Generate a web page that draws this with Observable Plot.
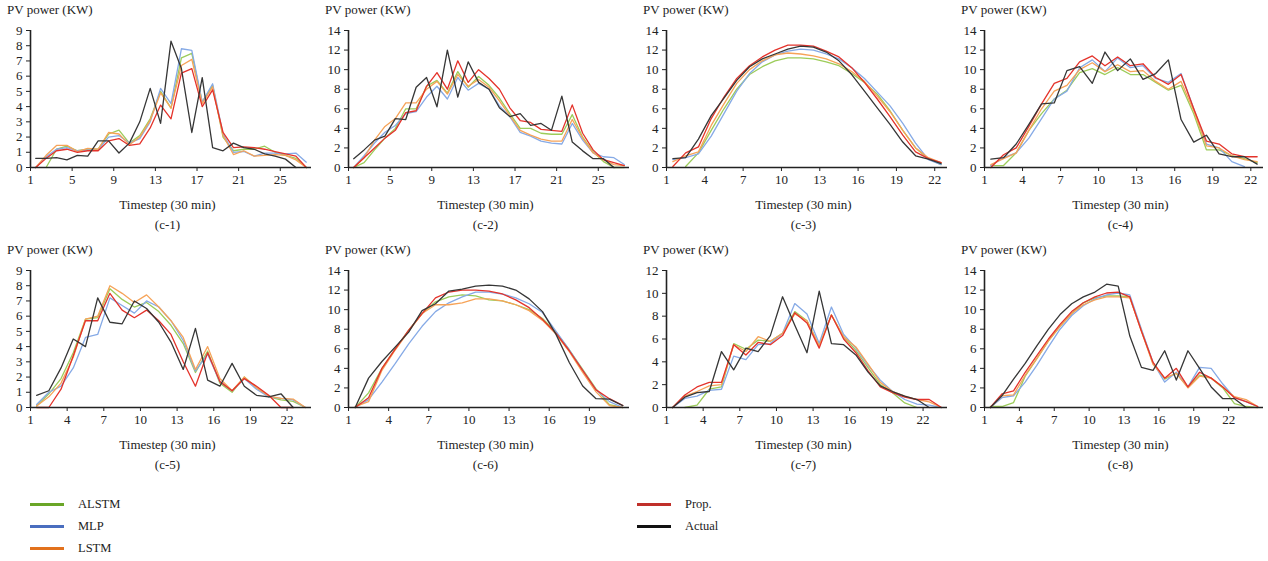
<!DOCTYPE html>
<html>
<head>
<meta charset="utf-8">
<script src="https://cdn.jsdelivr.net/npm/d3@7"></script>
<script src="https://cdn.jsdelivr.net/npm/@observablehq/plot@0.6"></script>
<style>
  body { margin: 0; background: #fff; font-family: "Liberation Serif", "Times New Roman", "DejaVu Serif", serif; color: #222; }
  #root { position: relative; width: 1268px; height: 561px; overflow: hidden; background: #fff; }
  .panel { position: absolute; width: 317px; height: 240px; }
  .ttl { position: absolute; top: 3px; font-size: 13px; line-height: 14px; white-space: nowrap; }
  .plotwrap { position: absolute; top: 20px; left: 0; }
  .xl, .cap { position: absolute; font-size: 13px; line-height: 14px; white-space: nowrap; transform: translateX(-50%); }
  .xl { top: 198px; }
  .cap { top: 218px; }
  .leg { position: absolute; font-size: 12.5px; line-height: 14px; white-space: nowrap; }
  .legline { position: absolute; width: 34px; height: 3px; }
</style>
</head>
<body>
<div id="root"></div>
<script>
// ---------- series ----------
const seriesNames = ["ALSTM", "MLP", "LSTM", "Prop.", "Actual"];
const lineColors = ["#9ccc5a", "#86aae6", "#f6a358", "#e4332b", "#363636"];
const legendColors = ["#6aa628", "#4a6ebf", "#e2711d", "#c0302a", "#111111"];

// ---------- (c-1) ----------
const c1Alstm  = [null,0,1.2,1.4,1.1,1.2,1.2,2.2,2.45,1.6,2.1,3.2,5.0,3.9,7.2,7.5,4.3,5.4,2.0,1.1,1.2,1.2,1.4,1.0,0.8,0.6,0];
const c1Mlp    = [0,0.7,1.2,1.3,1.1,1.15,1.15,2.0,2.1,1.6,1.9,3.0,5.2,4.2,7.8,7.7,4.3,5.5,2.2,1.0,1.05,0.75,0.95,0.95,0.9,0.95,0.35];
const c1Lstm   = [0,0.8,1.45,1.45,1.05,1.25,1.2,2.3,2.2,1.5,2.0,3.1,4.9,3.9,6.7,7.1,4.2,5.3,2.1,0.85,1.1,0.75,0.8,0.85,0.8,0.5,0];
const c1Prop   = [0,0.6,1.1,1.2,1.0,1.1,1.1,1.75,1.9,1.45,1.55,2.6,4.1,3.2,6.2,6.5,4.0,5.1,2.3,1.3,1.35,1.3,1.2,1.05,0.9,0.75,0];
const c1Actual = [0.6,0.6,0.65,0.5,0.8,0.75,1.75,1.75,0.95,1.6,3.0,5.2,2.9,8.3,6.5,2.3,5.9,1.3,1.1,1.6,1.3,1.2,0.9,0.75,0.55,0];

// ---------- (c-2) ----------
const c2Alstm  = [0,0.5,1.8,3.0,4.0,6.0,6.0,8.3,8.9,7.6,9.8,8.2,9.3,8.4,7.1,5.5,4.0,4.0,3.5,3.4,3.4,5.4,3.1,1.6,0.6,0,0];
const c2Mlp    = [0,1.2,2.5,3.6,4.3,5.5,5.7,7.2,8.3,7.0,9.2,7.9,8.6,8.0,6.3,5.2,3.6,3.2,2.7,2.5,2.4,4.5,2.8,1.5,1.1,1.0,0.3];
const c2Lstm   = [0,1.0,2.8,4.2,5.0,6.6,6.6,8.0,8.8,7.5,9.5,8.3,9.0,8.2,6.8,5.3,3.8,3.3,2.9,2.7,2.7,4.9,3.0,1.5,0.8,0.3,0.2];
const c2Prop   = [0,1.0,2.0,3.0,3.8,5.6,5.8,8.3,9.7,8.0,10.9,8.7,10.0,9.1,8.0,6.1,4.8,4.6,3.9,3.8,3.7,6.4,3.5,1.8,0.8,0.5,0.2];
const c2Actual = [0.9,1.8,2.8,3.2,5.0,4.9,8.2,9.2,6.2,12.0,7.2,10.8,8.7,8.0,6.1,5.2,5.5,4.3,4.5,3.8,7.3,2.6,1.7,0.9,0.9,0];

// ---------- (c-3) ----------
const c3Alstm  = [null,0.1,1.5,3.8,6.0,8.0,9.5,10.3,10.9,11.2,11.2,11.1,10.8,10.4,9.6,8.7,7.5,5.8,3.8,2.0,0.9,0.3];
const c3Mlp    = [0.8,1.0,1.4,3.2,5.5,7.8,9.6,10.8,11.5,11.9,12.1,12.0,11.6,11.1,10.2,9.1,7.7,6.3,4.5,2.5,0.8,0.3];
const c3Lstm   = [0.6,1.2,1.6,4.3,6.5,8.6,10.0,10.9,11.5,11.7,11.6,11.4,11.1,10.6,9.8,8.8,7.3,5.7,3.8,2.0,1.0,0.5];
const c3Prop   = [0.1,1.5,2.1,5.0,7.2,9.1,10.4,11.3,12.0,12.5,12.5,12.4,11.9,11.3,10.2,8.7,7.0,5.2,3.3,1.6,0.9,0.5];
const c3Actual = [0.9,1.0,2.9,5.3,7.1,8.9,10.3,11.1,11.6,12.1,12.4,12.3,11.8,10.9,9.5,7.8,6.1,4.4,2.6,1.2,0.85,0.4];

// ---------- (c-4) ----------
const c4Alstm  = [0.2,0.2,1.5,3.8,5.5,7.0,7.9,9.7,10.1,9.5,10.2,9.5,9.5,8.7,7.9,8.4,5.5,1.8,1.8,1.2,0.9,0.5];
const c4Mlp    = [0.2,1.0,1.5,3.0,5.0,7.0,7.8,10.2,11.0,9.8,11.2,10.2,10.4,9.1,8.7,9.6,6.0,2.4,2.0,0.6,0.1];
const c4Lstm   = [0.3,0.9,1.5,3.8,6.0,7.8,8.4,10.0,10.7,9.8,10.5,9.8,9.9,8.8,8.0,8.8,5.8,2.2,2.0,1.2,0.8,0.6];
const c4Prop   = [0,1.3,2.0,4.2,6.5,8.6,9.1,10.8,11.4,10.4,11.3,10.4,10.6,9.2,8.5,9.5,6.0,2.7,2.4,1.4,1.1,1.1];
const c4Actual = [0.85,1.0,2.4,4.4,6.5,6.6,9.9,10.3,8.6,11.8,9.9,11.1,9.0,9.6,11.0,4.9,2.6,3.3,1.4,1.1,1.1,0.35];

// ---------- (c-5) ----------
const c5Alstm  = [0.1,0.9,1.9,3.6,5.8,5.9,7.8,7.1,6.6,6.9,6.3,5.4,4.2,2.3,3.7,1.6,1.0,2.0,1.3,0.7,0.5,0.4,0];
const c5Mlp    = [0.2,1.0,1.4,2.6,4.6,4.8,7.2,6.7,6.2,7.0,6.6,5.7,4.4,2.4,3.5,1.7,1.1,1.9,1.2,0.7,0.6,0.5,0];
const c5Lstm   = [0.1,0.7,1.6,3.3,5.8,6.0,8.0,7.5,6.9,7.4,6.6,5.7,4.6,2.5,4.0,1.9,1.1,2.0,1.3,0.75,0.6,0.55,0];
const c5Prop   = [0,0,1.2,3.4,5.7,5.7,7.5,6.4,5.9,6.4,5.7,4.8,3.0,1.4,3.6,1.7,1.1,1.9,1.4,0.8,0,0];
const c5Actual = [0.8,1.1,2.6,4.5,4.0,7.2,5.6,5.5,7.0,6.5,5.6,4.3,2.5,5.2,1.8,1.4,2.9,1.4,0.8,0.7,0.9,0];

// ---------- (c-6) ----------
const c6Alstm  = [0,1.5,4.0,6.0,7.9,9.6,10.8,11.3,11.5,11.4,11.0,10.9,10.5,10.0,9.1,7.7,5.9,3.9,1.9,0.3,0];
const c6Mlp    = [0,0.8,2.6,4.5,6.5,8.3,9.8,10.7,11.3,11.8,11.8,11.6,11.2,10.6,9.7,7.8,5.9,3.8,1.8,0.6,0];
const c6Lstm   = [0.1,0.6,3.8,5.9,7.8,9.6,10.5,10.5,10.7,11.1,11.1,10.9,10.5,9.9,8.9,7.5,5.7,3.6,1.6,0.2,0];
const c6Prop   = [0,1.0,4.0,6.0,7.9,9.6,11.2,11.8,12.0,12.0,11.9,11.6,11.0,10.2,9.0,7.6,5.8,3.8,1.8,0.9,0.2];
const c6Actual = [0,3.0,4.7,6.2,7.7,9.9,10.6,11.9,12.1,12.4,12.5,12.4,12.0,11.1,9.8,7.5,4.6,2.2,0.9,0.85,0.2];

// ---------- (c-7) ----------
const c7Alstm  = [null,0,0.2,1.6,1.8,5.6,5.1,5.9,5.8,6.5,8.4,7.6,5.4,8.1,6.2,5.0,3.5,2.0,1.3,0.4,0];
const c7Mlp    = [0,0.8,1.0,1.5,1.6,4.5,4.2,5.5,5.6,6.5,9.1,8.2,5.6,8.8,6.4,5.2,3.7,2.4,1.4,0.7,0.3,0.2,0];
const c7Lstm   = [0,1.0,1.4,1.9,2.0,5.5,4.9,6.2,5.8,6.5,8.2,7.6,5.4,8.1,6.2,5.3,3.8,2.2,1.4,1.0,0.7,0.5,0];
const c7Prop   = [0,1.1,1.8,2.2,2.2,5.5,4.6,5.7,5.5,6.3,8.3,7.4,5.2,8.1,6.0,4.8,3.2,1.8,1.3,0.9,0.7,0.7,0];
const c7Actual = [0,0.9,1.3,1.4,4.9,3.3,5.2,4.9,6.3,9.7,7.2,4.8,10.2,5.6,5.5,4.6,3.1,1.9,1.4,1.0,0.7,0];

// ---------- (c-8) ----------
const c8Alstm  = [0.1,0.1,0.5,3.2,5.0,6.8,8.3,9.6,10.7,11.2,11.4,11.4,11.3,7.9,4.5,2.9,3.5,2.1,3.3,3.0,2.0,0.4,0.1,0];
const c8Mlp    = [0,1.0,1.2,2.6,4.3,6.2,8.0,9.4,10.4,11.1,11.5,11.7,11.5,8.0,4.6,2.6,3.6,2.1,4.1,4.0,2.4,1.0,0.6,0.1];
const c8Lstm   = [0,1.2,1.3,3.3,5.0,6.8,8.3,9.6,10.5,11.0,11.3,11.3,11.2,7.8,4.4,3.0,3.5,2.0,3.2,3.0,2.1,1.1,0.8,0.1];
const c8Prop   = [0,1.4,1.7,3.6,5.3,7.0,8.5,9.8,10.7,11.3,11.7,11.8,11.3,7.8,4.6,3.0,4.0,2.1,3.6,3.0,2.1,1.0,0.6,0.1];
const c8Actual = [0,1.2,2.9,4.5,6.3,8.0,9.5,10.6,11.3,11.8,12.6,12.4,7.3,4.1,3.8,5.8,2.8,5.8,4.0,2.1,0.9,0.9,0];

// ---------- axes ----------
const panelLabels = ["(c-1)", "(c-2)", "(c-3)", "(c-4)", "(c-5)", "(c-6)", "(c-7)", "(c-8)"];
const yMax  = [9, 14, 14, 14, 9, 14, 12, 14];
const yStep = [1, 2, 2, 2, 1, 2, 2, 2];
const xTicks = [
  [1, 5, 9, 13, 17, 21, 25],
  [1, 5, 9, 13, 17, 21, 25],
  [1, 4, 7, 10, 13, 16, 19, 22],
  [1, 4, 7, 10, 13, 16, 19, 22],
  [1, 4, 7, 10, 13, 16, 19, 22],
  [1, 4, 7, 10, 13, 16, 19],
  [1, 4, 7, 10, 13, 16, 19, 22],
  [1, 4, 7, 10, 13, 16, 19, 22]
];
const yTitle = "PV power (KW)";
const xTitle = "Timestep (30 min)";

const panelSeries = [
  [c1Alstm, c1Mlp, c1Lstm, c1Prop, c1Actual],
  [c2Alstm, c2Mlp, c2Lstm, c2Prop, c2Actual],
  [c3Alstm, c3Mlp, c3Lstm, c3Prop, c3Actual],
  [c4Alstm, c4Mlp, c4Lstm, c4Prop, c4Actual],
  [c5Alstm, c5Mlp, c5Lstm, c5Prop, c5Actual],
  [c6Alstm, c6Mlp, c6Lstm, c6Prop, c6Actual],
  [c7Alstm, c7Mlp, c7Lstm, c7Prop, c7Actual],
  [c8Alstm, c8Mlp, c8Lstm, c8Prop, c8Actual]
];

// ---------- layout ----------
const colLeft = [0, 318, 636, 952];
const rowTop = [0, 240];
const axisStart = [30, 30, 30, 32];
const axisEnd = 311;
const W = 316;
const FONT = "'Liberation Serif', 'Times New Roman', 'DejaVu Serif', serif";

const root = document.getElementById("root");

panelSeries.forEach((sets, i) => {
  const col = i % 4, row = Math.floor(i / 4);
  const div = document.createElement("div");
  div.className = "panel";
  div.style.left = colLeft[col] + "px";
  div.style.top = rowTop[row] + "px";
  root.appendChild(div);

  const t = document.createElement("div");
  t.className = "ttl";
  t.style.left = (col === 3 ? 9 : 7) + "px";
  t.textContent = yTitle;
  div.appendChild(t);

  const rows = [];
  sets.forEach((arr, s) => arr.forEach((v, k) => {
    if (v != null) rows.push({series: seriesNames[s], step: k + 1, v});
  }));
  const N = d3.max(sets, a => a.length);

  const ml = axisStart[col];
  const svg = Plot.plot({
    width: W,
    height: 172,
    marginTop: 10,
    marginBottom: 25,
    marginLeft: ml,
    marginRight: W - axisEnd,
    style: {fontFamily: FONT, fontSize: "13px", color: "#222", background: "transparent", overflow: "visible"},
    x: {domain: [1, N + 1], ticks: xTicks[i], tickSize: 4, tickPadding: 3, label: null, tickFormat: d => String(d)},
    y: {domain: [0, yMax[i]], ticks: d3.range(0, yMax[i] + 0.001, yStep[i]), tickSize: 4, tickPadding: 4, label: null, tickFormat: d => String(d)},
    color: {domain: seriesNames, range: lineColors},
    marks: [
      Plot.line(rows, {x: d => d.step + 0.5, y: "v", z: "series", stroke: "series", strokeWidth: 1.3, curve: "linear"}),
      Plot.ruleY([0], {stroke: "#222", strokeWidth: 1.6}),
      Plot.ruleX([1], {stroke: "#222", strokeWidth: 1.6})
    ]
  });
  const wrap = document.createElement("div");
  wrap.className = "plotwrap";
  wrap.appendChild(svg);
  div.appendChild(wrap);

  const mid = (ml + axisEnd) / 2 - 3;
  const xl = document.createElement("div");
  xl.className = "xl";
  xl.style.left = mid + "px";
  xl.textContent = xTitle;
  div.appendChild(xl);

  const cap = document.createElement("div");
  cap.className = "cap";
  cap.style.left = mid + "px";
  cap.textContent = panelLabels[i];
  div.appendChild(cap);
});

// ---------- legend ----------
const legendLeft = [30, 30, 30, 637, 637];
const legendRow = [0, 1, 2, 0, 1];
seriesNames.forEach((name, s) => {
  const cy = 504 + legendRow[s] * 22;
  const ln = document.createElement("div");
  ln.className = "legline";
  ln.style.left = legendLeft[s] + "px";
  ln.style.top = (cy - 1.5) + "px";
  ln.style.background = legendColors[s];
  root.appendChild(ln);
  const tx = document.createElement("div");
  tx.className = "leg";
  tx.style.left = (legendLeft[s] + 48) + "px";
  tx.style.top = (cy - 7) + "px";
  tx.textContent = name;
  root.appendChild(tx);
});
</script>
</body>
</html>
